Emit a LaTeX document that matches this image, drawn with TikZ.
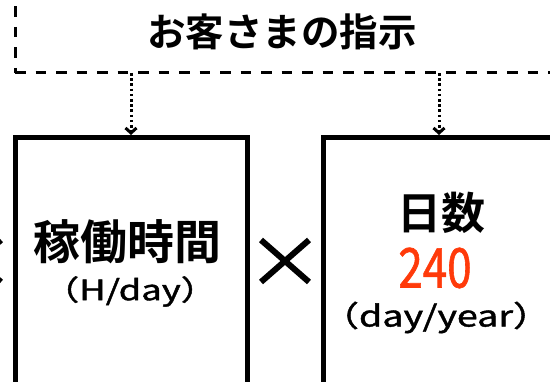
\documentclass[tikz,border=0pt]{standalone}
\usepackage{fontspec}
\usetikzlibrary{arrows.meta}
\newfontfamily\jp{Noto Sans CJK JP}[BoldFont={* Bold}]
\newfontfamily\jpmed{Noto Sans CJK JP}[FakeBold=1.3]
\definecolor{numred}{HTML}{FF3A0A}
\begin{document}
\begin{tikzpicture}[x=1pt,y=-1pt,
  txt/.style={inner sep=0pt, outer sep=0pt, font=\jp},
  mtxt/.style={inner sep=0pt, outer sep=0pt, font=\jpmed},
  dashbox/.style={draw, line width=3pt, dash pattern=on 10.5pt off 10pt, outer sep=0pt},
  factorbox/.style={draw, line width=5pt, minimum width=232pt, minimum height=400pt},
  dotarrow/.style={line width=3pt, dash pattern=on 2.6pt off 2.6pt,
    -{Straight Barb[length=5pt,width=11pt]}},
  crossline/.style={line width=6pt}]
\useasboundingbox (0,0) rectangle (550,382);
% dashed instruction box
\node[dashbox, minimum width=580pt, minimum height=140pt, anchor=south west] (instrbox) at (15,73) {};
\node[txt] (instr) at (282,32) {\bfseries\fontsize{38.5}{42}\selectfont お客さまの指示};
% factor boxes
\node[factorbox, anchor=north] (hbox) at (131,135) {};
\node[factorbox, anchor=north] (dbox) at (439,135) {};
% arrows
\draw[dotarrow] (instrbox.south -| hbox.north) -- (hbox.north);
\draw[dotarrow] (instrbox.south -| dbox.north) -- (dbox.north);
% texts in boxes
\node[txt] (hours) at (128,242) {\bfseries\fontsize{47}{50}\selectfont 稼働時間};
\node[mtxt] (hunit) at (130,291.5) {\fontsize{28}{30}\selectfont\scalebox{1.3}[1]{（H/day）}};
\node[txt] (days) at (441,213) {\bfseries\fontsize{44}{48}\selectfont 日数};
\node[mtxt, text=numred] (dnum) at (435,268) {\fontsize{55}{60}\selectfont\scalebox{0.8}[1]{240}};
\node[mtxt] (dunit) at (436,317.5) {\fontsize{29}{32}\selectfont\scalebox{1.3}[1]{（day/year）}};
% multiplication signs
\draw[crossline] (261,240) -- (309,282) (261,282) -- (309,240);
\draw[crossline] (-47,240) -- (1,282) (-47,282) -- (1,240);
\end{tikzpicture}
\end{document}
